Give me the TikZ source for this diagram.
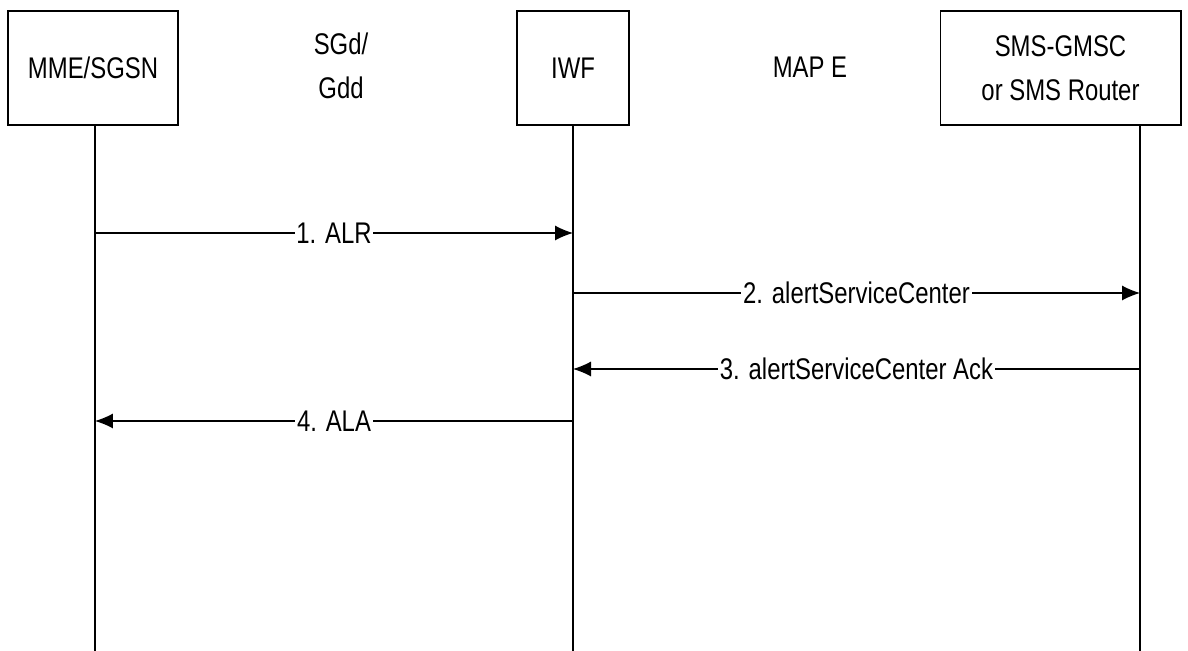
\documentclass[tikz,border=0pt]{standalone}
\usepackage{fontspec}
\setmainfont{Liberation Sans}[FakeStretch=0.8]
\usetikzlibrary{arrows.meta,positioning}

\begin{document}
\begin{tikzpicture}[>={Latex[length=0.36cm,width=0.3cm]},line width=0.6pt,font=\fontsize{17}{25}\selectfont,x=0.02cm,y=-0.02cm]
 \tikzset{entity/.style={draw,minimum height=2.28cm,align=center,inner sep=0pt},
  iface/.style={align=center},
  msg/.style={fill=white,inner sep=1pt}}
 \useasboundingbox (0,0) rectangle (1188,651);
 % entities and interfaces
 \node[entity,minimum width=3.4cm] (mme) at (93,68) {MME/SGSN};
 \node[entity,minimum width=2.24cm] (iwf) at (573,68) {IWF};
 \node[entity,minimum width=4.82cm] (smsc) at (1060.5,68) {SMS-GMSC\\or SMS Router};
 \node[iface] (sgd) at (341,66) {SGd/\\Gdd};
 \node[iface] (mape) at (810,67) {MAP E};
 % lifelines
 \coordinate (lmme) at (95,125); \coordinate (liwf) at (573,125); \coordinate (lsmsc) at (1140,125);
 \draw (lmme) -- (lmme |- 0,651); \draw (liwf) -- (liwf |- 0,651); \draw (lsmsc) -- (lsmsc |- 0,651);
 % messages
 \draw[->] (lmme |- 0,233) -- node[msg]{1. ALR} (liwf |- 0,233);
 \draw[->] (liwf |- 0,293) -- node[msg]{2. alertServiceCenter} (lsmsc |- 0,293);
 \draw[->] (lsmsc |- 0,369) -- node[msg]{3. alertServiceCenter Ack} (liwf |- 0,369);
 \draw[->] (liwf |- 0,421) -- node[msg]{4. ALA} (lmme |- 0,421);
\end{tikzpicture}
\end{document}
